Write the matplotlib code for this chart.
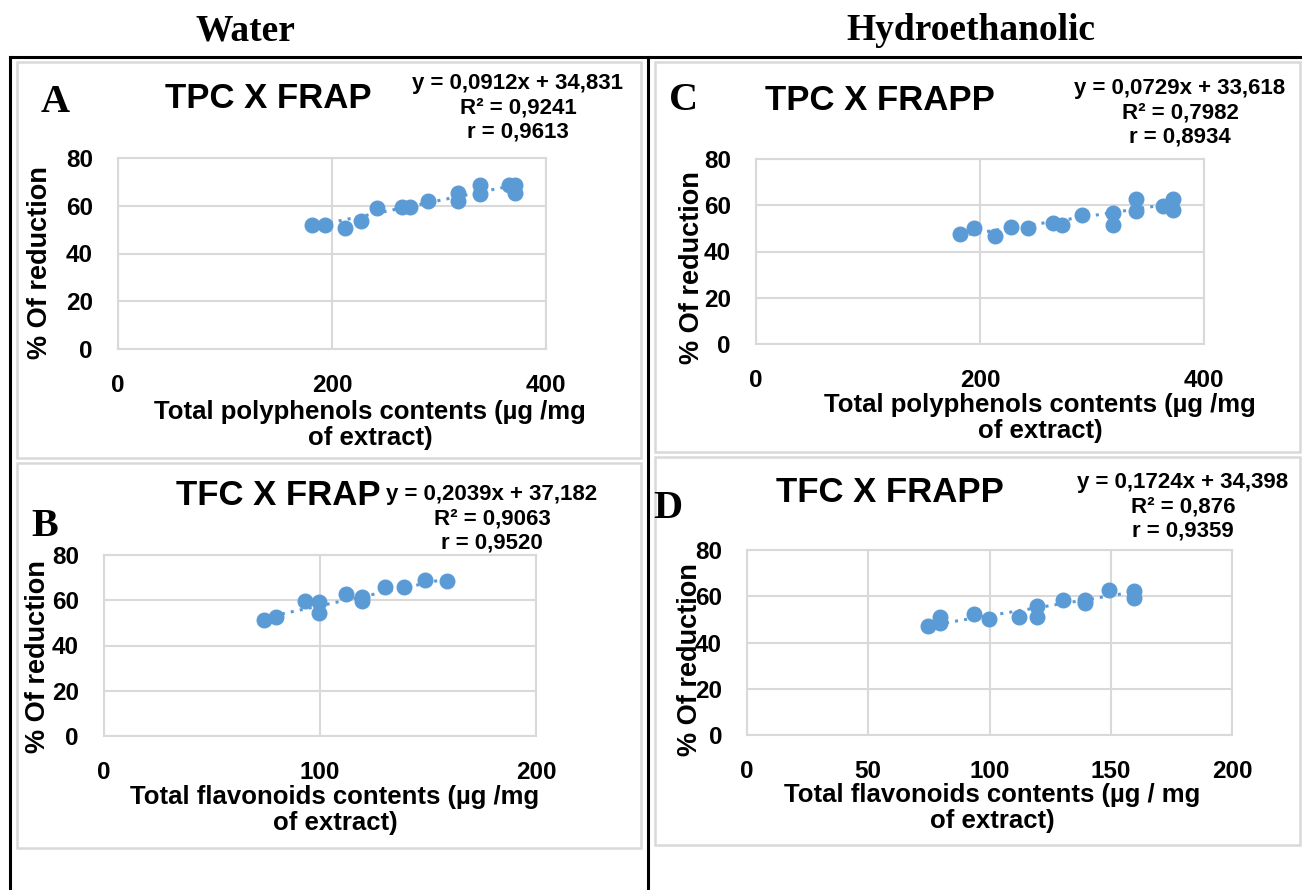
import matplotlib
matplotlib.use("Agg")
import matplotlib.pyplot as plt
import numpy as np
from matplotlib.lines import Line2D
from matplotlib.patches import Rectangle

# data
water_tpc_x = [181, 193, 212, 227, 242, 265, 273, 290, 318, 318, 338, 338, 365, 371, 371]
water_tpc_y = [52.1, 52.1, 50.7, 53.8, 59.1, 59.5, 59.5, 61.9, 65.4, 61.9, 68.9, 64.9, 68.9, 68.9, 65.4]
water_tfc_x = [74, 79.4, 93, 99.7, 99.7, 111.9, 119.3, 119.3, 130.1, 138.9, 148.7, 158.7]
water_tfc_y = [51.2, 52.4, 59.8, 59.3, 54.2, 62.6, 61.6, 59.6, 65.7, 65.7, 68.9, 68.5]
hydro_tpc_x = [182, 195, 213, 228, 242.5, 265, 273, 291, 319, 319, 339, 339, 363, 372, 372]
hydro_tpc_y = [47.6, 50.1, 46.5, 50.5, 50.1, 52.5, 51.5, 55.8, 56.8, 51.5, 62.7, 57.7, 59.7, 62.7, 58.0]
hydro_tfc_x = [74.6, 79.5, 79.5, 93.5, 99.7, 112, 119.6, 119.6, 130.3, 139.5, 139.5, 149.4, 159.5, 159.5]
hydro_tfc_y = [47.3, 50.9, 48.3, 52.3, 50.1, 51.2, 55.8, 51.2, 58.5, 58.5, 56.9, 62.7, 62.3, 59.4]

slopes = [0.0912, 0.2039, 0.0729, 0.1724]
intercepts = [34.831, 37.182, 33.618, 34.398]
equations = ["y = 0,0912x + 34,831\nR² = 0,9241\nr = 0,9613",
             "y = 0,2039x + 37,182\nR² = 0,9063\nr = 0,9520",
             "y = 0,0729x + 33,618\nR² = 0,7982\nr = 0,8934",
             "y = 0,1724x + 34,398\nR² = 0,876\nr = 0,9359"]
titles = ["TPC X FRAP", "TFC X FRAP", "TPC X FRAPP", "TFC X FRAPP"]
letters = ["A", "B", "C", "D"]
xlabels = ["Total polyphenols contents (µg /mg\nof extract)",
           "Total flavonoids contents (µg /mg\nof extract)",
           "Total polyphenols contents (µg /mg\nof extract)",
           "Total flavonoids contents (µg / mg\nof extract)"]
xticks = [[0, 200, 400], [0, 100, 200], [0, 200, 400], [0, 50, 100, 150, 200]]
yticks = [0, 20, 40, 60, 80]

W, H = 1302, 890
fig = plt.figure(figsize=(W / 100, H / 100), dpi=100)
plt.rcParams['font.family'] = ['Liberation Sans', 'DejaVu Sans']

def fx(x):
    return x / W

def fy(y):
    return 1 - y / H

blue = '#5b9bd5'
grey = '#d9d9d9'

# header texts
fig.text(fx(245), fy(31), "Water", family='Liberation Serif', weight='bold', fontsize=27, ha='center', va='center')
fig.text(fx(971), fy(31), "Hydroethanolic", family='Liberation Serif', weight='bold', fontsize=27, ha='center', va='center')

# black frame lines
for (x0, y0, x1, y1) in [(10, 57, 1302, 57), (10, 57, 10, 890), (648, 57, 648, 890)]:
    fig.add_artist(Line2D([fx(x0), fx(x1)], [fy(y0), fy(y1)], color='black', lw=2.2, transform=fig.transFigure))

# grey chart frames
for (x0, y0, x1, y1) in [(17, 62, 641, 458), (17, 463, 641, 848), (655, 62, 1300, 452), (655, 457, 1300, 845)]:
    fig.add_artist(Rectangle((fx(x0), fy(y1)), (x1 - x0) / W, (y1 - y0) / H, fill=False,
                             edgecolor=grey, lw=1.8, transform=fig.transFigure))

# panel layouts (pixel boxes and text positions)
boxes = [(118, 158, 546, 349), (104, 555, 536, 736), (756, 159, 1204, 344), (747, 550, 1232, 735)]
title_pos = [(268, 98), (278, 496), (880, 100), (890, 492)]
eq_pos = [(518, 108), (492, 519), (1180, 113), (1183, 507)]
letter_pos = [(55, 102), (45, 526), (684, 101), (668, 509)]
ylab_pos = [(40, 263), (38, 657), (692, 268), (690, 660)]
xlab_pos = [(370, 425), (335, 810), (1040, 418), (992, 808)]
datasets = [(water_tpc_x, water_tpc_y, 400), (water_tfc_x, water_tfc_y, 200),
            (hydro_tpc_x, hydro_tpc_y, 400), (hydro_tfc_x, hydro_tfc_y, 200)]

for i in range(4):
    l, t, r, b = boxes[i]
    ax = fig.add_axes([fx(l), fy(b), (r - l) / W, (b - t) / H])
    xs, ys, xmax = datasets[i]
    ax.plot(xs, ys, 'o', color=blue, markersize=10.5, zorder=3)
    tx = np.array([min(xs), max(xs)])
    ax.plot(tx, slopes[i] * tx + intercepts[i], linestyle=(0, (1, 2)), color=blue, lw=2.2, zorder=2)
    ax.set_xlim(0, xmax)
    ax.set_ylim(0, 80)
    ax.set_xticks(xticks[i])
    ax.set_yticks(yticks)
    ax.grid(True, color=grey, lw=1.5)
    ax.set_axisbelow(True)
    for s in ax.spines.values():
        s.set_color(grey)
        s.set_linewidth(1.5)
    ax.tick_params(length=0, labelsize=17.5, pad=18)
    for lab in ax.get_xticklabels() + ax.get_yticklabels():
        lab.set_fontweight('bold')

    fig.text(fx(title_pos[i][0]), fy(title_pos[i][1]), titles[i], weight='bold', fontsize=25, ha='center', va='center')
    fig.text(fx(eq_pos[i][0]), fy(eq_pos[i][1]), equations[i], weight='bold', fontsize=16, ha='center', va='center',
             multialignment='center', linespacing=1.2)
    fig.text(fx(letter_pos[i][0]), fy(letter_pos[i][1]), letters[i], family='Liberation Serif', weight='bold',
             fontsize=29, ha='center', va='center')
    fig.text(fx(ylab_pos[i][0]), fy(ylab_pos[i][1]), "% Of reduction", weight='bold', fontsize=19.5,
             rotation=90, ha='center', va='center')
    fig.text(fx(xlab_pos[i][0]), fy(xlab_pos[i][1]), xlabels[i], weight='bold', fontsize=18.5, ha='center', va='center',
             multialignment='center', linespacing=1.15)

fig.savefig("out.png", dpi=100)
